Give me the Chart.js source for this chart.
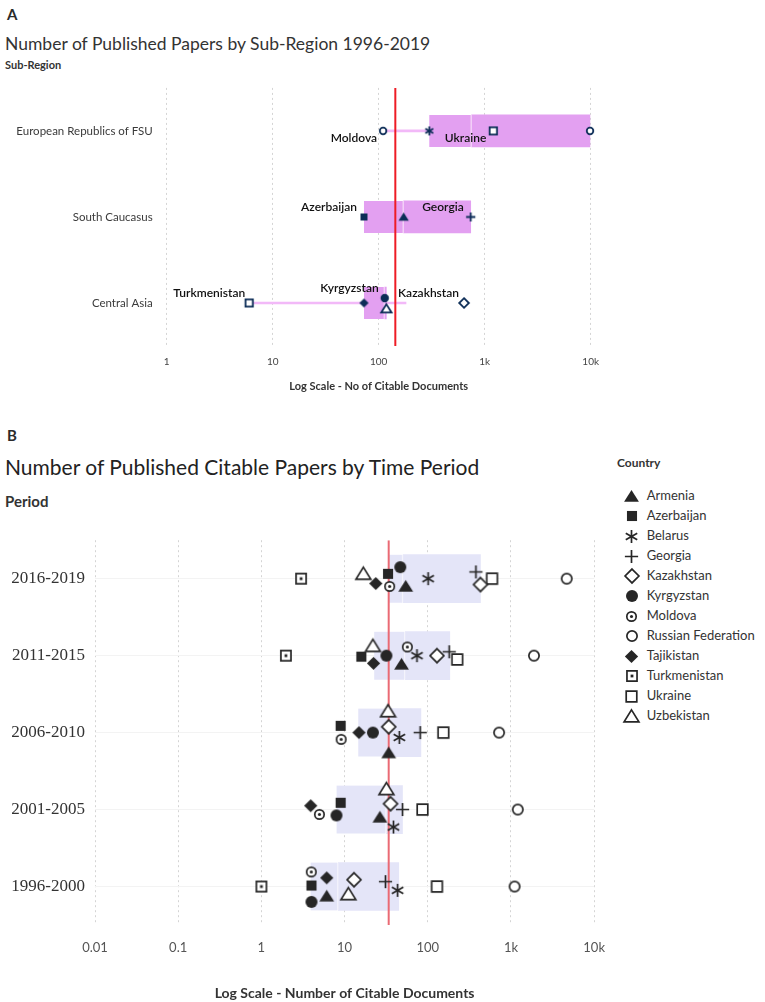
<!DOCTYPE html>
<html>
<head>
<meta charset="utf-8">
<script src="https://cdn.jsdelivr.net/npm/chart.js@4.4.1/dist/chart.umd.min.js"></script>
<style>
  body { margin: 0; background: #fff; width: 765px; height: 1002px; position: relative; overflow: hidden; font-family: Lato, sans-serif; color: #2b2b2b; }
  .t { position: absolute; white-space: nowrap; line-height: 1; }
  canvas.chart { position: absolute; left: 0; }
  .leg { position: absolute; left: 620px; font-size: 13px; color: #333; line-height: 1; white-space: nowrap; }
  .leg canvas { position: absolute; }
</style>
</head>
<body>
<div class="t" style="left:7px;top:7px;font-size:15px;font-weight:bold;">A</div>
<div class="t" style="left:5px;top:35px;font-size:17.5px;color:#333;">Number of Published Papers by Sub-Region 1996-2019</div>
<div class="t" style="left:5px;top:59px;font-size:11px;font-weight:bold;color:#333;">Sub-Region</div>
<canvas id="chartA" class="chart" width="765" height="330" style="top:75px"></canvas>

<div class="t" style="left:7px;top:428px;font-size:15px;font-weight:bold;">B</div>
<div class="t" style="left:5px;top:456px;font-size:21px;color:#222;">Number of Published Citable Papers by Time Period</div>
<div class="t" style="left:5px;top:494px;font-size:15px;font-weight:bold;color:#333;">Period</div>
<div class="t" style="left:617px;top:457px;font-size:12px;font-weight:bold;color:#333;">Country</div>
<canvas id="chartB" class="chart" width="620" height="482" style="top:520px"></canvas>
<div id="legendB"></div>

<script>
// ---- panel A: all papers 1996-2019 by sub-region ----
const regionsA = ['European Republics of FSU', 'South Caucasus', 'Central Asia'];
const namesA = ['Moldova', 'Belarus', 'Ukraine', 'Russian Federation', 'Azerbaijan', 'Armenia', 'Georgia',
  'Turkmenistan', 'Tajikistan', 'Kyrgyzstan', 'Uzbekistan', 'Kazakhstan'];
const regionOfA = [0, 0, 0, 0, 1, 1, 1, 2, 2, 2, 2, 2];
const docsA = [110, 300, 1205, 9860, 72.6, 172, 738, 6.0, 72.6, 114, 118, 638];
const q1A = [300, 72.6, 72.6];
const medianA = [753, 172, 114];
const q3A = [9860, 738, 118];
const whiskerLoA = [110, 72.6, 6.0];
const whiskerHiA = [9860, 738, 181];
const refLineA = 143.5;
const ticksA = [1, 10, 100, 1000, 10000];

// ---- panel B: citable papers by period ----
const periods = ['2016-2019', '2011-2015', '2006-2010', '2001-2005', '1996-2000'];
const countries = ['Armenia', 'Azerbaijan', 'Belarus', 'Georgia', 'Kazakhstan', 'Kyrgyzstan', 'Moldova',
  'Russian Federation', 'Tajikistan', 'Turkmenistan', 'Ukraine', 'Uzbekistan'];
const armenia      = [54.3, 48.4, 33.9, 26.6, 6.1];
const azerbaijan   = [33.3, 15.9, 8.97, 8.97, 4.0];
const belarus      = [101, 74.2, 45.5, 38.7, 43.4];
const georgia      = [379, 181, 81.2, 49.7, 31.0];
const kazakhstan   = [430, 129, 33.9, 35.7, 13.0];
const kyrgyzstan   = [46.7, 31.8, 21.9, 7.99, 4.0];
const moldova      = [34.8, 56.8, 9.1, 4.98, 3.98];
const russia       = [4680, 1890, 720, 1208, 1105];
const tajikistan   = [23.7, 22.3, 14.9, 3.92, 6.1];
const turkmenistan = [3.0, 1.97, null, null, 1.0];
const ukraine      = [592, 226, 154, 86.3, 129];
const uzbekistan   = [16.8, 21.9, 33.3, 31.8, 11.1];
const seriesB = [armenia, azerbaijan, belarus, georgia, kazakhstan, kyrgyzstan, moldova,
  russia, tajikistan, turkmenistan, ukraine, uzbekistan];
const q1B = [34.0, 22.7, 14.6, 8.0, 3.9];
const medianB = [50.5, 53.5, 33.9, 31.8, 8.4];
const q3B = [430, 184, 82.7, 49.7, 44.8];
const refLineB = 33.9;
const ticksB = [0.01, 0.1, 1, 10, 100, 1000, 10000];

// vertical jitter of the points inside a row (fraction of a row)
const shiftA = [0, 0, 0, 0, 0, 0, 0, 0, 0, -0.057, 0.068, 0];
const shiftB = [
  [0.10, 0.113, 0.265, 0.10, 0.126],
  [-0.063, 0.013, -0.088, -0.088, -0.013],
  [0, 0, 0.063, 0.227, 0.05],
  [-0.088, -0.05, 0, 0, -0.063],
  [0.076, 0, -0.076, -0.076, -0.088],
  [-0.15, 0, 0, 0.076, 0.2],
  [0.10, -0.113, 0.088, 0.063, -0.19],
  [0, 0, 0, 0, 0],
  [0.063, 0.10, 0, -0.05, -0.113],
  [0, 0, 0, 0, 0],
  [0, 0.05, 0, 0, 0],
  [-0.063, -0.126, -0.277, -0.265, 0.10]
];

const symbolOf = {
  'Armenia': 'tri', 'Azerbaijan': 'sq', 'Belarus': 'ast', 'Georgia': 'plus', 'Kazakhstan': 'diaOpen',
  'Kyrgyzstan': 'dot', 'Moldova': 'circDot', 'Russian Federation': 'circOpen', 'Tajikistan': 'dia',
  'Turkmenistan': 'sqDot', 'Ukraine': 'sqOpen', 'Uzbekistan': 'triOpen'
};
// panel A uses plain open circle / open square
const symbolOfA = Object.assign({}, symbolOf, { 'Moldova': 'circOpen', 'Turkmenistan': 'sqOpen' });
const sizeOf = { circOpen: 0.95, circDot: 0.88, dot: 0.95, sq: 1, sqOpen: 1.05, sqDot: 1, tri: 1.05,
  triOpen: 1.05, dia: 1.05, diaOpen: 1.1, plus: 1.05, ast: 1.05 };

const labelsA = [
  { name: 'Moldova', dx: -6, dy: 7 },
  { name: 'Ukraine', dx: -7, dy: 7 },
  { name: 'Azerbaijan', dx: -7, dy: -10 },
  { name: 'Georgia', dx: -7, dy: -10 },
  { name: 'Turkmenistan', dx: -4, dy: -10 },
  { name: 'Kyrgyzstan', dx: -6, dy: -10 },
  { name: 'Kazakhstan', dx: -5, dy: -10 }
];

function marker(kind, base, color, lw) {
  const s = base * sizeOf[kind];
  const n = Math.ceil(s * 2 + lw * 2 + 2);
  const c = document.createElement('canvas');
  c.width = n; c.height = n;
  const g = c.getContext('2d');
  g.translate(n / 2, n / 2);
  g.strokeStyle = color; g.fillStyle = color; g.lineWidth = lw;
  const open = () => { g.fillStyle = '#fff'; g.fill(); g.stroke(); g.fillStyle = color; };
  g.beginPath();
  if (kind === 'tri' || kind === 'triOpen') {
    g.moveTo(0, -s); g.lineTo(s * 1.12, s * 0.8); g.lineTo(-s * 1.12, s * 0.8); g.closePath();
    if (kind === 'tri') g.fill(); else open();
  } else if (kind === 'sq' || kind === 'sqOpen' || kind === 'sqDot') {
    const h = s * 0.8;
    g.rect(-h, -h, 2 * h, 2 * h);
    if (kind === 'sq') g.fill(); else open();
    if (kind === 'sqDot') g.fillRect(-s * 0.22, -s * 0.22, s * 0.44, s * 0.44);
  } else if (kind === 'dot' || kind === 'circOpen' || kind === 'circDot') {
    g.arc(0, 0, kind === 'dot' ? s : s - lw / 2, 0, Math.PI * 2);
    if (kind === 'dot') g.fill(); else open();
    if (kind === 'circDot') { g.beginPath(); g.arc(0, 0, s * 0.28, 0, Math.PI * 2); g.fill(); }
  } else if (kind === 'dia' || kind === 'diaOpen') {
    g.moveTo(0, -s); g.lineTo(s, 0); g.lineTo(0, s); g.lineTo(-s, 0); g.closePath();
    if (kind === 'dia') g.fill(); else open();
  } else if (kind === 'plus') {
    g.moveTo(-s, 0); g.lineTo(s, 0); g.moveTo(0, -s); g.lineTo(0, s); g.stroke();
  } else if (kind === 'ast') {
    [90, 30, 150].forEach(a => {
      const r = a * Math.PI / 180;
      g.moveTo(Math.cos(r) * s, -Math.sin(r) * s); g.lineTo(-Math.cos(r) * s, Math.sin(r) * s);
    });
    g.stroke();
  }
  return c;
}

const fmtLog = v => v >= 1000 ? (v / 1000) + 'k' : String(v);

Chart.defaults.font.family = 'Lato, sans-serif';

// country names next to the points of panel A
const pointLabels = {
  id: 'pointLabels',
  afterDatasetsDraw(chart) {
    const { ctx, scales } = chart;
    ctx.save();
    ctx.font = '600 12px Lato, sans-serif';
    ctx.fillStyle = '#111';
    ctx.textAlign = 'right';
    ctx.textBaseline = 'middle';
    labelsA.forEach(l => {
      const i = namesA.indexOf(l.name);
      const px = scales.x.getPixelForValue(docsA[i]);
      const py = scales.y.getPixelForValue(regionOfA[i] + shiftA[i]);
      ctx.fillText(l.name, px + l.dx, py + l.dy);
    });
    ctx.restore();
  }
};

function boxSets(lo, mid, hi, thick, fill, midColor) {
  return [
    { type: 'bar', indexAxis: 'y', grouped: false, order: 4, barThickness: thick, backgroundColor: fill,
      borderSkipped: false, borderWidth: { left: 0, top: 0, bottom: 0, right: 1.5 }, borderColor: midColor,
      data: lo.map((v, i) => ({ x: [v, mid[i]], y: i })) },
    { type: 'bar', indexAxis: 'y', grouped: false, order: 4, barThickness: thick, backgroundColor: fill,
      borderWidth: 0, data: hi.map((v, i) => ({ x: [mid[i], v], y: i })) }
  ];
}

// ---------------- chart A ----------------
const dsA = [];
dsA.push({ type: 'bar', indexAxis: 'y', grouped: false, order: 5, barThickness: 2, backgroundColor: '#f2b9f8',
  data: regionsA.map((r, i) => ({ x: [whiskerLoA[i], whiskerHiA[i]], y: i })) });
boxSets(q1A, medianA, q3A, 32, '#e3a0f1', '#f3d0f8').forEach(d => dsA.push(d));
dsA.push({ type: 'line', order: 2, borderColor: '#ee1c25', borderWidth: 2, pointRadius: 0,
  data: [{ x: refLineA, y: -0.5 }, { x: refLineA, y: 2.5 }] });
namesA.forEach((n, i) => {
  dsA.push({ type: 'scatter', order: 1, label: n, pointRadius: 5, clip: false,
    pointStyle: marker(symbolOfA[n], 4.4, '#0c2d57', 1.8),
    data: [{ x: docsA[i], y: regionOfA[i] + shiftA[i] }] });
});

new Chart(document.getElementById('chartA'), {
  type: 'scatter',
  data: { datasets: dsA },
  options: {
    responsive: false,
    animation: false,
    layout: { padding: { left: 0, right: 174.3, top: 8, bottom: 0 } },
    plugins: { legend: { display: false }, tooltip: { enabled: false } },
    scales: {
      x: {
        type: 'logarithmic', min: 1, max: 10000, offset: false,
        afterBuildTicks: s => { s.ticks = ticksA.map(v => ({ value: v })); },
        afterFit: s => { s.height = 59; },
        grid: { color: '#d4d4d4', drawTicks: false, offset: false },
        border: { display: false, dash: [2, 3] },
        ticks: { autoSkip: false, maxRotation: 0, padding: 10, color: '#444', font: { size: 10 }, callback: fmtLog },
        title: { display: true, text: 'Log Scale - No of Citable Documents', color: '#333',
          font: { size: 11, weight: 'bold' }, padding: { top: 0, bottom: 12.4 } }
      },
      y: {
        type: 'linear', min: -0.5, max: 2.5, reverse: true, offset: false,
        afterBuildTicks: s => { s.ticks = regionsA.map((r, i) => ({ value: i })); },
        afterFit: s => { s.width = 166.7; },
        grid: { display: false, offset: false }, border: { display: false },
        ticks: { padding: 6, color: '#3a3a3a', font: { size: 11.5 }, callback: v => regionsA[v] }
      }
    }
  },
  plugins: [pointLabels]
});

// ---------------- chart B ----------------
const dsB = [];
boxSets(q1B, medianB, q3B, 48, '#e4e5f8', '#f4f4fc').forEach(d => dsB.push(d));
dsB.push({ type: 'line', order: 2, borderColor: '#ea6a74', borderWidth: 2, pointRadius: 0,
  data: [{ x: refLineB, y: -0.5 }, { x: refLineB, y: 4.5 }] });
countries.forEach((n, c) => {
  const pts = [];
  seriesB[c].forEach((v, i) => { if (v !== null) pts.push({ x: v, y: i + shiftB[c][i] }); });
  dsB.push({ type: 'scatter', order: 1, label: n, pointRadius: 6, clip: false,
    pointStyle: marker(symbolOf[n], 6.3, '#262626', 1.7), data: pts });
});

new Chart(document.getElementById('chartB'), {
  type: 'scatter',
  data: { datasets: dsB },
  options: {
    responsive: false,
    animation: false,
    layout: { padding: { left: 0, right: 8.3, top: 8.4, bottom: 0 } },
    plugins: { legend: { display: false }, tooltip: { enabled: false } },
    scales: {
      x: {
        type: 'logarithmic', min: 0.01, max: 10000, offset: false,
        afterBuildTicks: s => { s.ticks = ticksB.map(v => ({ value: v })); },
        afterFit: s => { s.height = 77; },
        grid: { color: '#d4d4d4', drawTicks: false, offset: false },
        border: { display: false, dash: [2, 3] },
        ticks: { autoSkip: false, maxRotation: 0, padding: 15, color: '#555', font: { size: 13 }, callback: fmtLog },
        title: { display: true, text: 'Log Scale - Number of Citable Documents', color: '#333',
          font: { size: 14, weight: 'bold' }, padding: { top: 0, bottom: 0 } }
      },
      y: {
        type: 'linear', min: -0.5, max: 4.5, reverse: true, offset: false,
        afterBuildTicks: s => { s.ticks = periods.map((p, i) => ({ value: i })); },
        afterFit: s => { s.width = 95; },
        grid: { color: '#f3f3f3', drawTicks: false, offset: false }, border: { display: false },
        ticks: { padding: 10, color: '#333', font: { size: 17, family: '"Liberation Serif", serif' },
          callback: v => periods[v] }
      }
    }
  }
});

// legend of panel B
const leg = document.getElementById('legendB');
countries.forEach((n, i) => {
  const y = 496 + 20 * i;
  const row = document.createElement('div');
  row.className = 'leg';
  row.style.top = (y - 7) + 'px';
  const icon = marker(symbolOf[n], 6.3, '#262626', 1.7);
  icon.style.left = (631.7 - 620 - icon.width / 2) + 'px';
  icon.style.top = (7 - icon.height / 2) + 'px';
  const txt = document.createElement('span');
  txt.textContent = n;
  txt.style.position = 'absolute';
  txt.style.left = '26.7px';
  txt.style.top = '0px';
  row.appendChild(icon);
  row.appendChild(txt);
  leg.appendChild(row);
});
</script>
</body>
</html>
